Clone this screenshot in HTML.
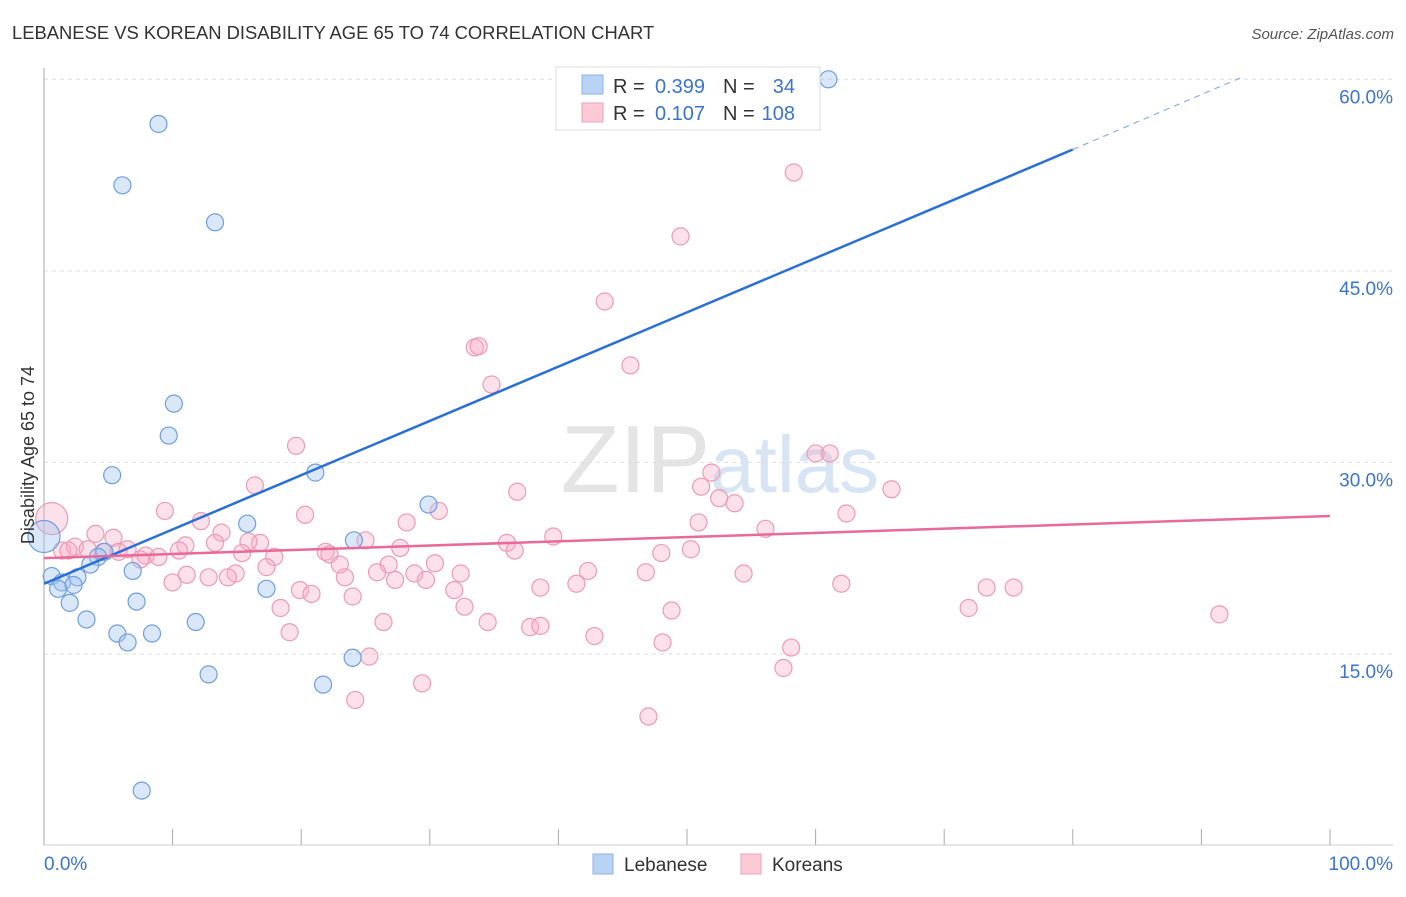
<!DOCTYPE html>
<html><head><meta charset="utf-8"><style>
body{margin:0;background:#fff;font-family:"Liberation Sans",sans-serif;}
svg text{font-family:"Liberation Sans",sans-serif;}
</style></head><body>
<svg id="chart" width="1406" height="892" xmlns="http://www.w3.org/2000/svg">
<text x="12" y="39" font-size="18.4" fill="#333">LEBANESE VS KOREAN DISABILITY AGE 65 TO 74 CORRELATION CHART</text>
<text x="1394" y="39" font-size="15" fill="#555" text-anchor="end" font-style="italic">Source: ZipAtlas.com</text>
<text x="720" y="492" font-size="96" fill="#e4e4e4" text-anchor="middle" font-family="Liberation Serif">ZIP<tspan fill="#d6e4f4" font-family="Liberation Sans" font-size="80">atlas</tspan></text>
<g id="grid"></g><g id="axes"></g><g id="pink"></g><g id="blue"></g><g id="trends"></g>
<text transform="translate(34,455) rotate(-90)" font-size="18" fill="#333" text-anchor="middle">Disability Age 65 to 74</text>
<g>
<rect x="556" y="67" width="264" height="63" fill="#fff" stroke="#ddd"/>
<rect x="582" y="75" width="21" height="19" fill="#b9d3f5" stroke="#8db3e8"/>
<rect x="582" y="103" width="21" height="19" fill="#fcc9d7" stroke="#f0a0b8"/>
<text x="613" y="93" font-size="20" fill="#333">R =</text>
<text x="705" y="93" font-size="20" fill="#3a74d0" text-anchor="end">0.399</text>
<text x="723" y="93" font-size="20" fill="#333">N =</text>
<text x="795" y="93" font-size="20" fill="#3a74d0" text-anchor="end">34</text>
<text x="613" y="120" font-size="20" fill="#333">R =</text>
<text x="705" y="120" font-size="20" fill="#3a74d0" text-anchor="end">0.107</text>
<text x="723" y="120" font-size="20" fill="#333">N =</text>
<text x="795" y="120" font-size="20" fill="#3a74d0" text-anchor="end">108</text>
</g>
<g>
<rect x="593" y="854" width="20" height="20" fill="#b9d3f5" stroke="#8db3e8"/>
<text x="624" y="871" font-size="19" fill="#333">Lebanese</text>
<rect x="741" y="854" width="20" height="20" fill="#fcc9d7" stroke="#f0a0b8"/>
<text x="772" y="871" font-size="19" fill="#333">Koreans</text>
</g>
</svg>
<script>
const yTicks=[15,30,45,60];
const yTickLabels=["15.0%","30.0%","45.0%","60.0%"];
const xTicks=[0,10,20,30,40,50,60,70,80,90,100];
const blueX=[61.0,8.9,6.1,13.3,10.1,9.7,5.3,21.1,29.9,15.8,24.1,0,4.7,4.2,3.6,6.9,0.6,2.6,1.4,2.3,1.1,17.3,2.0,7.2,3.3,11.8,5.7,8.4,6.5,24.0,12.8,21.7,7.6];
const blueY=[60.0,56.5,51.7,48.8,34.6,32.1,29.0,29.2,26.7,25.2,23.9,24.2,23.0,22.6,22.0,21.5,21.1,21.0,20.6,20.4,20.1,20.1,19.0,19.1,17.7,17.5,16.6,16.6,15.9,14.7,13.4,12.6,4.3];
const pinkX=[58.3,49.5,43.6,33.5,33.8,45.6,34.8,19.6,60.0,61.1,51.9,51.1,52.5,36.8,65.9,53.7,9.4,20.3,62.4,30.7,28.2,50.9,56.1,16.4,12.2,13.8,4.0,5.4,0.6,2.4,39.6,25.0,36.0,16.8,15.9,13.3,11.0,3.4,1.4,1.9,4.6,5.8,6.5,7.9,8.9,15.4,17.9,7.5,10.5,21.9,22.2,27.7,36.6,50.3,48.0,23.0,30.4,17.3,26.8,25.9,32.4,42.3,28.8,46.8,54.4,11.1,14.9,12.8,14.3,23.4,27.3,29.7,10.0,41.4,38.6,62.0,73.3,75.4,31.9,19.9,20.8,24.0,32.7,18.4,48.8,71.9,91.4,26.4,34.5,37.8,38.6,19.1,42.8,48.1,58.1,25.3,57.5,29.4,24.2,47.0];
const pinkY=[52.7,47.7,42.6,39.0,39.1,37.6,36.1,31.3,30.7,30.7,29.2,28.1,27.2,27.7,27.9,26.8,26.2,25.9,26.0,26.2,25.3,25.3,24.8,28.2,25.4,24.5,24.4,24.1,25.6,23.4,24.2,23.9,23.7,23.7,23.8,23.7,23.5,23.2,23.1,23.1,23.0,23.0,23.2,22.7,22.6,22.9,22.6,22.4,23.1,23.0,22.8,23.3,23.1,23.2,22.9,22.0,22.1,21.8,22.0,21.4,21.3,21.5,21.3,21.4,21.3,21.2,21.3,21.0,21.0,21.0,20.8,20.8,20.6,20.5,20.2,20.5,20.2,20.2,20.0,20.0,19.7,19.5,18.7,18.6,18.4,18.6,18.1,17.5,17.5,17.1,17.2,16.7,16.4,15.9,15.5,14.8,13.9,12.7,11.4,10.1];
const blueTrend=[20.5,54.5,80,60.1,93];
const pinkTrend=[22.5,25.8];
const NS="http://www.w3.org/2000/svg";
const X=v=>44+v*12.86, Y=v=>845.5-v*12.77;
function mk(t,a,p){const e=document.createElementNS(NS,t);for(const k in a)e.setAttribute(k,a[k]);p.appendChild(e);return e;}
const grid=document.getElementById('grid'),axes=document.getElementById('axes');
yTicks.forEach((t,i)=>{
 const l=mk('line',{x1:44,x2:1393,y1:Y(t),y2:Y(t),stroke:'#ddd','stroke-dasharray':'4,4'},grid);
 
 
 const tx=mk('text',{x:1393,y:Y(t)+24,'font-size':19,fill:'#3a74d0','text-anchor':'end'},axes);
 tx.textContent=yTickLabels[i];
 
 
});
const ya=mk('line',{x1:44,x2:44,y1:68,y2:845,stroke:'#aaa'},axes);


const xa=mk('line',{x1:44,x2:1393,y1:845,y2:845,stroke:'#ccc'},axes);


xTicks.forEach(t=>{const l=mk('line',{x1:X(t),x2:X(t),y1:829,y2:845,stroke:'#aaa'},axes);
 
 });
[[0,'0.0%','start',44],[100,'100.0%','end',1393]].forEach(d=>{const t=mk('text',{x:d[3],y:870,'font-size':19,fill:'#3a74d0','text-anchor':d[2]},axes);t.textContent=d[1];
 
 });
function dots(xs,ys,g,fill,stroke,name){const p=document.getElementById(g);xs.forEach((x,i)=>{
 const big=(x===0||x===0.6)&&(ys[i]===24.2||ys[i]===25.6);
 const c=mk('circle',{cx:X(x),cy:Y(ys[i]),r:big?16:8.5,fill:fill,stroke:stroke,'stroke-width':1.2},p);
 
 });}
dots(pinkX,pinkY,'pink','rgba(248,170,195,0.35)','#ef9ab5','korean-point');
dots(blueX,blueY,'blue','rgba(160,196,240,0.4)','#6e9fe0','lebanese-point');
const tr=document.getElementById('trends');
const b1=mk('line',{x1:X(0),y1:Y(blueTrend[0]),x2:X(blueTrend[2]),y2:Y(blueTrend[1]),stroke:'#2a6fd6','stroke-width':2.5},tr);


const b2=mk('line',{x1:X(blueTrend[2]),y1:Y(blueTrend[1]),x2:X(blueTrend[4]),y2:Y(blueTrend[3]),stroke:'#8ab0e6','stroke-width':1.2,'stroke-dasharray':'6,5'},tr);


const p1=mk('line',{x1:X(0),y1:Y(pinkTrend[0]),x2:X(100),y2:Y(pinkTrend[1]),stroke:'#e8699a','stroke-width':2.5},tr);


</script>
</body></html>
